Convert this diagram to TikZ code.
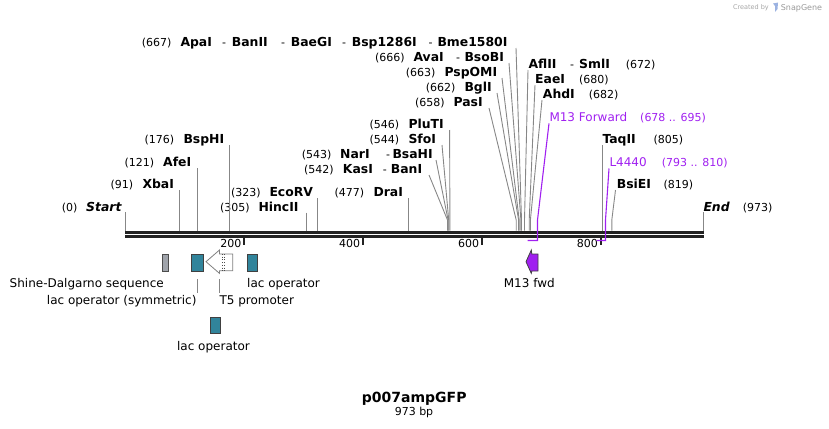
\documentclass[tikz,border=0pt]{standalone}
\usepackage{fontspec}
\setmainfont{DejaVu Sans}
\definecolor{primer}{RGB}{160,32,240}
\definecolor{teal}{RGB}{49,132,155}
\definecolor{sdgray}{RGB}{160,164,171}
\definecolor{lead}{RGB}{135,135,135}
\definecolor{seq}{RGB}{34,34,34}
\begin{document}
\begin{tikzpicture}[x=1pt,y=-1pt,
  num/.style={inner sep=0pt, font=\fontsize{11}{13}\selectfont, anchor=base west},
  enz/.style={inner sep=0pt, font=\fontsize{12.4}{14}\selectfont\bfseries, anchor=base west},
  feat/.style={inner sep=0pt, font=\fontsize{12}{14}\selectfont},
  leader/.style={draw=lead, line width=0.9pt},
  pleader/.style={draw=primer, line width=1.1pt},
  seqline/.style={draw=seq, line width=2.4pt},
  tickmark/.style={draw=seq, line width=2pt},
  opbox/.style={fill=teal, draw=black!75, line width=0.7pt}]
\useasboundingbox (0,0) rectangle (829,428);

% ---------------- sequence line ----------------
\coordinate (s0) at (125,232.3);
\coordinate (s1) at (704,232.3);
\coordinate (t0) at (125,236.3);
\coordinate (t1) at (704,236.3);
\draw[seqline] (s0) -- (s1);
\draw[seqline] (t0) -- (t1);

% ticks
\foreach \x/\l in {244.1/200, 362.9/400, 481.7/600, 600.5/800}{
  \coordinate (tk\l a) at (\x,237);
  \coordinate (tk\l b) at (\x,245);
  \draw[tickmark] (tk\l a) -- (tk\l b);
  \node[num, anchor=base east] (tl\l) at (\x-2.5,247.3) {\l};
}

% ---------------- left enzymes ----------------
\node[num] (nStart) at (61.7,211) {(0)};
\node[enz, font=\fontsize{12.4}{14}\selectfont\bfseries\itshape] (eStart) at (86,211) {Start};
\node[num] (nXba) at (110.3,188.3) {(91)};
\node[enz] (eXba) at (142.3,188.3) {XbaI};
\node[num] (nAfe) at (124.3,166) {(121)};
\node[enz] (eAfe) at (163,166) {AfeI};
\node[num] (nBsp) at (144.3,143.3) {(176)};
\node[enz] (eBsp) at (183.3,143.3) {BspHI};
\node[num] (nEco) at (231,196) {(323)};
\node[enz] (eEco) at (269.3,196) {EcoRV};
\node[num] (nHinc) at (220,211) {(305)};
\node[enz] (eHinc) at (258.3,211) {HincII};
\node[num] (nDra) at (334.3,196) {(477)};
\node[enz] (eDra) at (373.3,196) {DraI};
\node[num] (nPlu) at (369.3,128.3) {(546)};
\node[enz] (ePlu) at (408.3,128.3) {PluTI};
\node[num] (nSfo) at (369.3,143.3) {(544)};
\node[enz] (eSfo) at (408.3,143.3) {SfoI};
\node[num] (nNar) at (301.7,158.3) {(543)};
\node[enz] (eNar) at (340,158.3) {NarI};
\node[num] (hNar) at (386,158.3) {-};
\node[enz] (eBsaH) at (392.3,158.3) {BsaHI};
\node[num] (nKas) at (304,173.3) {(542)};
\node[enz] (eKas) at (342.7,173.3) {KasI};
\node[num] (hKas) at (382.7,173.3) {-};
\node[enz] (eBanI) at (390.7,173.3) {BanI};

% top rows
\node[num] (nApa) at (141.7,46.5) {(667)};
\node[enz] (eApa) at (180.3,46.5) {ApaI};
\node[num] (h1) at (222,46.5) {-};
\node[enz] (eBanII) at (231.7,46.5) {BanII};
\node[num] (h2) at (281,46.5) {-};
\node[enz] (eBae) at (290.7,46.5) {BaeGI};
\node[num] (h3) at (342,46.5) {-};
\node[enz] (eB128) at (351.7,46.5) {Bsp1286I};
\node[num] (h4) at (428.3,46.5) {-};
\node[enz] (eBme) at (437.3,46.5) {Bme1580I};
\node[num] (nAva) at (375,61.3) {(666)};
\node[enz] (eAva) at (413.3,61.3) {AvaI};
\node[num] (h5) at (456,61.3) {-};
\node[enz] (eBso) at (464.3,61.3) {BsoBI};
\node[num] (nPsp) at (405.7,76.5) {(663)};
\node[enz] (ePsp) at (444.3,76.5) {PspOMI};
\node[num] (nBgl) at (425.7,91.5) {(662)};
\node[enz] (eBgl) at (464.3,91.5) {BglI};
\node[num] (nPas) at (415,106.5) {(658)};
\node[enz] (ePas) at (453.3,106.5) {PasI};

% ---------------- right enzymes ----------------
\node[enz] (eAfl) at (528.3,68.3) {AflII};
\node[num] (h6) at (570,68.3) {-};
\node[enz] (eSml) at (579,68.3) {SmlI};
\node[num] (nAfl) at (625.7,68.3) {(672)};
\node[enz] (eEae) at (535,83.3) {EaeI};
\node[num] (nEae) at (579,83.3) {(680)};
\node[enz] (eAhd) at (542.7,98.3) {AhdI};
\node[num] (nAhd) at (588.7,98.3) {(682)};
\node[feat, anchor=base west, text=primer] (pM13) at (549.3,121) {M13 Forward};
\node[num, text=primer] (nM13) at (640,121) {(678 .. 695)};
\node[enz] (eTaq) at (602.3,143.3) {TaqII};
\node[num] (nTaq) at (653.3,143.3) {(805)};
\node[feat, anchor=base west, text=primer] (pL44) at (609.3,166) {L4440};
\node[num, text=primer] (nL44) at (661.7,166) {(793 .. 810)};
\node[enz] (eBsi) at (616.7,188.3) {BsiEI};
\node[num] (nBsi) at (663.3,188.3) {(819)};
\node[enz, font=\fontsize{12.4}{14}\selectfont\bfseries\itshape] (eEnd) at (703.3,211) {End};
\node[num] (nEnd) at (742.7,211) {(973)};

% ---------------- leader lines ----------------
% straight ones
\foreach \n/\x/\y in {Start/125.3/212, Xba/179.7/190, Afe/197.7/168, Bsp/229.3/145,
  Hinc/306.3/212.5, Eco/317.3/198, Dra/408.3/198, Taq/602.8/145, End/703.3/212}{
  \coordinate (l\n) at (\x,\y);
  \coordinate (s\n) at (\x,230.5);
  \draw[leader] (l\n) -- (s\n);
}
% angled ones
\foreach \n/\lx/\ly/\sx in {Kas/429/175/447.5, Nar/436/160/448.1, Sfo/442/145/448.7, Plu/449.6/130/449.9,
  Pas/489/108/516.2, Bgl/497/93/518.6, Psp/502/78/519.2, Ava/509/63/520.9, Apa/516/48/521.5,
  Afl/528/70/524.5, Eae/535/85/529.2, Ahd/542/100/530.4, Bsi/615.5/190/611.8}{
  \coordinate (l\n) at (\lx,\ly);
  \coordinate (k\n) at (\sx,220);
  \coordinate (s\n) at (\sx,230.5);
  \draw[leader] (l\n) -- (k\n) -- (s\n);
}
% primer leaders with brackets
\coordinate (lM13) at (549,123.5);
\coordinate (kM13) at (537.5,220);
\coordinate (bM13) at (537.5,240.5);
\coordinate (eM13) at (527.5,240.5);
\draw[pleader] (lM13) -- (kM13) -- (bM13) -- (eM13);
\coordinate (lL44) at (609,168.5);
\coordinate (kL44) at (605.5,220);
\coordinate (bL44) at (605.5,240.5);
\coordinate (eL44) at (596.5,240.5);
\draw[pleader] (lL44) -- (kL44) -- (bL44) -- (eL44);

% ---------------- features ----------------
\node[draw=black!70, fill=sdgray, line width=0.6pt, minimum width=5.5pt, minimum height=17pt, inner sep=0pt] (sd) at (165.2,262.5) {};
\node[opbox, minimum width=12.5pt, minimum height=17pt, inner sep=0pt] (lacsym) at (197.4,262.5) {};
\node[opbox, minimum width=10.4pt, minimum height=17pt, inner sep=0pt] (lacR) at (252.5,262.5) {};
\node[opbox, minimum width=10.4pt, minimum height=16pt, inner sep=0pt] (lacL) at (215.5,325.3) {};

% T5 promoter arrow
\coordinate (t5tip) at (206,261.7);
\draw[draw=black!50, fill=white, line width=0.8pt] (t5tip) -- (219.5,250) -- (219.5,254) -- (232.7,254)
  -- (232.7,270.7) -- (219.5,270.7) -- (219.5,273.4) -- cycle;
\draw[black!70, dotted, line width=0.7pt] (222.3,254) -- (222.3,270.7);
\draw[black!70, dotted, line width=0.7pt] (224.4,254) -- (224.4,270.7);

% M13 fwd arrow
\coordinate (m13tip) at (526,261.7);
\draw[draw=black!75, fill=primer, line width=0.8pt] (m13tip) -- (531.3,250) -- (531.8,254) -- (538,254)
  -- (538,271) -- (531.8,271) -- (531.3,273.4) -- cycle;

% feature labels
\node[feat, anchor=base east] (tsd) at (164,287.3) {Shine-Dalgarno sequence};
\node[feat, anchor=base east] (tlacsym) at (196.7,304) {lac operator (symmetric)};
\node[feat, anchor=base west] (tt5) at (219.3,304) {T5 promoter};
\node[feat, anchor=base west] (tlacR) at (247,287.3) {lac operator};
\node[feat, anchor=base] (tlacL) at (213.5,350.5) {lac operator};
\node[feat, anchor=base] (tm13) at (529.3,287.3) {M13 fwd};
\coordinate (fl1a) at (197.5,279);
\coordinate (fl1b) at (197.5,293);
\coordinate (fl2a) at (219,279);
\coordinate (fl2b) at (219,293);
\draw[leader] (fl1a) -- (fl1b);
\draw[leader] (fl2a) -- (fl2b);

% ---------------- title ----------------
\node[inner sep=0pt, anchor=base, font=\fontsize{14}{16}\selectfont\bfseries] (title) at (414.2,402.3) {p007ampGFP};
\node[inner sep=0pt, anchor=base, font=\fontsize{11}{13}\selectfont] (len) at (414,415.7) {973 bp};

% ---------------- credit ----------------
\node[inner sep=0pt, anchor=base east, font=\fontsize{6.5}{8}\selectfont, text=black!35] (cby) at (769,9.8) {Created by};
\fill[cyan!45!blue!40] (773,3.5) -- (778,2.5) -- (777.5,9) -- (775,12) -- (775,6) -- cycle;
\node[inner sep=0pt, anchor=base west, font=\fontsize{8}{10}\selectfont, text=black!40] (csg) at (780.7,10.5) {SnapGene};
\end{tikzpicture}
\end{document}
